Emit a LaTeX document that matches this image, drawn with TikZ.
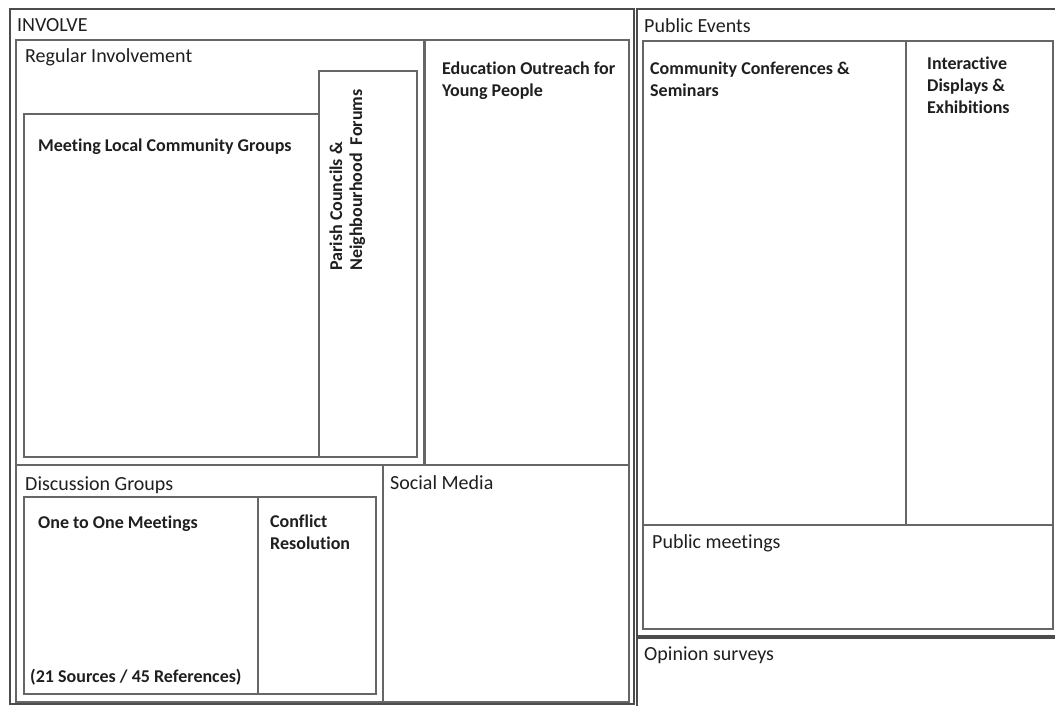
\documentclass[tikz,border=0pt]{standalone}
\usepackage{fontspec}
\setmainfont{Carlito}[Ligatures=NoCommon]
\begin{document}
\begin{tikzpicture}[x=1pt,y=-1pt,
  outerbox/.style={draw=black!70, line width=2.4pt},
  innerbox/.style={draw=black!60, line width=1.5pt},
  grouplabel/.style={anchor=base west, inner sep=0pt, font=\fontsize{20}{24}\selectfont, text=black!88},
  leaflabel/.style={anchor=base west, inner sep=0pt, font=\fontsize{18}{22}\selectfont\bfseries, text=black!88}]
  % page
  \fill[white] (0,0) rectangle (1055,706);
  \useasboundingbox (0,0) rectangle (1055,706);
  \clip (0,0) rectangle (1055,706);

  % INVOLVE branch
  \draw[outerbox] (10,9) rectangle (634,704);
  \draw[innerbox] (16,40) rectangle (424,465);
  \draw[innerbox] (425,40) rectangle (629,465);
  \draw[innerbox] (319,71) rectangle (417,457);
  \draw[innerbox] (24,114) rectangle (319,457);
  \draw[innerbox] (16,465) rectangle (383,702);
  \draw[innerbox] (383,465) rectangle (629,702);
  \draw[innerbox] (24,497) rectangle (258,694);
  \draw[innerbox] (258,497) rectangle (376,694);

  % Public Events branch
  \draw[outerbox] (637,9) rectangle (1062,636);
  \draw[innerbox] (643,41) rectangle (906,525);
  \draw[innerbox] (906,41) rectangle (1053,525);
  \draw[innerbox] (643,525) rectangle (1053,629);

  % Opinion surveys
  \draw[outerbox] (637,638) rectangle (1062,712);

  % labels
  \node[grouplabel] (involve) at (17,32) {INVOLVE};
  \node[grouplabel] (regular) at (25,63) {Regular Involvement};
  \node[leaflabel] (meeting) at (38,152) {Meeting Local Community Groups};
  \node[leaflabel, rotate=90] (parish) at (342,271)
    {\begin{tabular}[t]{@{}l@{}}Parish Councils \&\\[-2pt]Neighbourhood~~Forums\end{tabular}};
  \node[leaflabel] (education) at (442,75)
    {\begin{tabular}[t]{@{}l@{}}Education Outreach for\\[0pt]Young People\end{tabular}};
  \node[grouplabel] (discussion) at (25,490) {Discussion Groups};
  \node[leaflabel] (onetoone) at (38,528) {One to One Meetings};
  \node[leaflabel] (sources) at (30,682) {(21 Sources / 45 References)};
  \node[leaflabel] (conflict) at (270,527)
    {\begin{tabular}[t]{@{}l@{}}Conflict\\[0pt]Resolution\end{tabular}};
  \node[grouplabel] (social) at (390,489) {Social Media};

  \node[grouplabel] (public) at (644,33) {Public Events};
  \node[leaflabel] (conferences) at (650,75)
    {\begin{tabular}[t]{@{}l@{}}Community Conferences \&\\[0pt]Seminars\end{tabular}};
  \node[leaflabel] (interactive) at (927,70)
    {\begin{tabular}[t]{@{}l@{}}Interactive\\[0pt]Displays \&\\[0pt]Exhibitions\end{tabular}};
  \node[grouplabel] (pubmeet) at (652,548) {Public meetings};
  \node[grouplabel] (opinion) at (644,660) {Opinion surveys};
\end{tikzpicture}
\end{document}
